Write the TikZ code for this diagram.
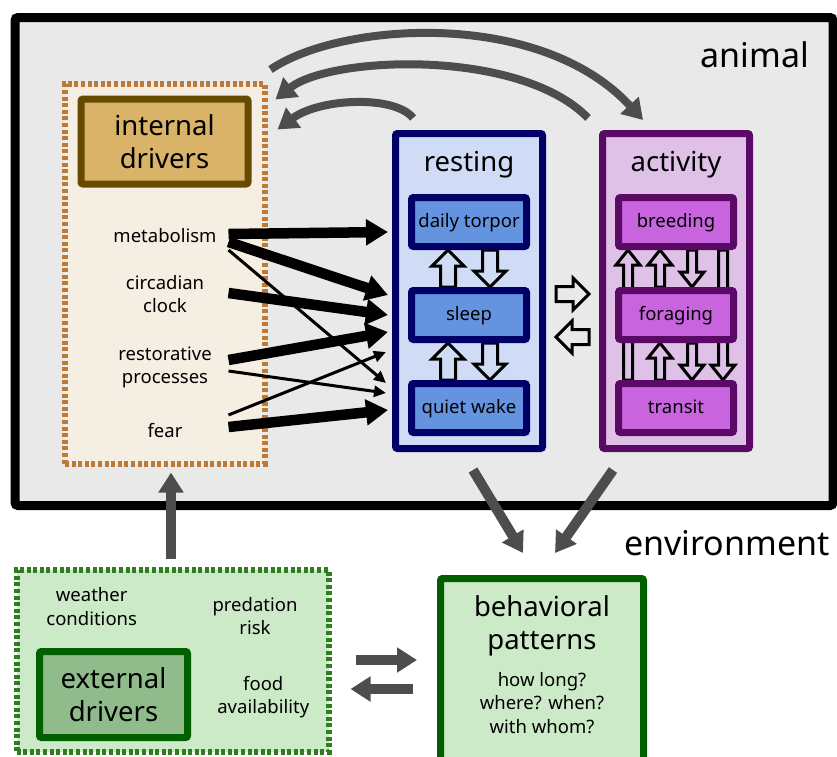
\documentclass[tikz,border=0pt]{standalone}
\usepackage{fontspec}
\setmainfont{Noto Sans}
\usetikzlibrary{arrows.meta,calc,positioning}

\definecolor{bgGray}{HTML}{E9E9E9}
\definecolor{arrGray}{HTML}{4D4D4D}
\definecolor{intFill}{HTML}{F5EEE2}
\definecolor{intDot}{HTML}{BC7A36}
\definecolor{intBox}{HTML}{D9B468}
\definecolor{intLine}{HTML}{654A00}
\definecolor{restFill}{HTML}{D0DCF5}
\definecolor{restLine}{HTML}{000066}
\definecolor{restBox}{HTML}{6494E0}
\definecolor{actFill}{HTML}{DFC0E6}
\definecolor{actLine}{HTML}{5A0A66}
\definecolor{actBox}{HTML}{C864DE}
\definecolor{extFill}{HTML}{CDEAC8}
\definecolor{extDot}{HTML}{2E7D1E}
\definecolor{extBox}{HTML}{8FBC8A}
\definecolor{extLine}{HTML}{006000}

\pgfdeclarelayer{back}
\pgfdeclarelayer{mid}
\pgfsetlayers{back,mid,main}

% hollow block arrows (vertical / horizontal)
\newcommand{\vhollow}[5]{%
  \draw[hollow] let \p1=#1, \p2=#2, \n1={sign(\y2-\y1)} in
    ({\x1-#3},\y1) -- ({\x1-#3},{\y2-(\n1)*#5}) -- ({\x1-#4},{\y2-(\n1)*#5}) -- (\x1,\y2)
    -- ({\x1+#4},{\y2-(\n1)*#5}) -- ({\x1+#3},{\y2-(\n1)*#5}) -- ({\x1+#3},\y1) -- cycle;}
\newcommand{\hhollow}[5]{%
  \draw[hollow] let \p1=#1, \p2=#2, \n1={sign(\x2-\x1)} in
    (\x1,{\y1-#3}) -- ({\x2-(\n1)*#5},{\y1-#3}) -- ({\x2-(\n1)*#5},{\y1-#4}) -- (\x2,\y1)
    -- ({\x2-(\n1)*#5},{\y1+#4}) -- ({\x2-(\n1)*#5},{\y1+#3}) -- (\x1,{\y1+#3}) -- cycle;}

\begin{document}
\begin{tikzpicture}[x=1pt, y=-1pt,
  smalltxt/.style={font=\fontsize{18.5}{23.5}\selectfont, align=center, inner sep=0pt},
  bigtxt/.style={font=\fontsize{27.5}{33}\selectfont, align=center, inner sep=0pt},
  hugetxt/.style={font=\fontsize{34}{40}\selectfont, inner sep=0pt},
  dotbox/.style={line width=6pt, dash pattern=on 4pt off 2.6pt, inner sep=0pt},
  framebox/.style={draw, line width=7pt, rounded corners=2pt, inner sep=0pt},
  itembox/.style={framebox, minimum width=115pt, minimum height=49pt,
    font=\fontsize{18.5}{22}\selectfont, text height=14pt, text depth=3.5pt},
  restitem/.style={itembox, draw=restLine, fill=restBox},
  actitem/.style={itembox, draw=actLine, fill=actBox},
  bigarr/.style={line width=10.5pt, -{Triangle[length=22pt,width=25pt]}},
  thinarr/.style={line width=3pt, -{Triangle[length=12pt,width=11pt]}},
  grayarr/.style={draw=arrGray, line width=10pt, -{Triangle[length=20pt,width=24pt]}},
  curvarr/.style={draw=arrGray, line width=8pt, -{Triangle[length=20pt,width=24pt]}},
  hollow/.style={draw=black, line width=3pt, line join=miter}
]
\useasboundingbox (0,0) rectangle (837,756);

% boxes behind everything
\begin{pgfonlayer}{back}
  \draw[line width=9pt, fill=bgGray, rounded corners=3pt] (15,17.5) rectangle (833,505.5);
  \node[dotbox, draw=intDot, fill=intFill, minimum width=199.5pt, minimum height=380pt] (drv) at (164.75,273.5) {};
  \node[dotbox, draw=extDot, fill=extFill, minimum width=312pt, minimum height=182pt] (ext) at (172.5,661) {};
  \node[framebox, draw=restLine, fill=restFill, minimum width=147pt, minimum height=315pt] (rest) at (469,291) {};
  \node[framebox, draw=actLine, fill=actFill, minimum width=147pt, minimum height=315pt] (act) at (676,291) {};
\end{pgfonlayer}

\node[hugetxt, anchor=base] (anim) at (755,67) {animal};
\node[hugetxt, anchor=base] (env) at (727,555) {environment};

% internal drivers
\node[framebox, draw=intLine, fill=intBox, minimum width=167pt, minimum height=85pt, bigtxt] (intd) at (164.5,141.5) {internal\\drivers};
\node[smalltxt, anchor=base] (met) at (165,242) {metabolism};
\node[smalltxt] (clk) at (165,294) {circadian\\clock};
\node[smalltxt] (rpr) at (165,367.5) {restorative\\processes};
\node[smalltxt, anchor=base] (fear) at (165,437) {fear};

% resting states
\node[bigtxt, anchor=base] (restlbl) at (469,171) {resting};
\node[restitem] (dt) at (469,222) {daily torpor};
\node[restitem] (sl) at (469,315) {sleep};
\node[restitem] (qw) at (469,408) {quiet wake};

% activity states
\node[bigtxt, anchor=base] (actlbl) at (676,171) {activity};
\node[actitem] (br) at (676,222) {breeding};
\node[actitem] (fo) at (676,315) {foraging};
\node[actitem] (tr) at (676,408) {transit};

% external drivers
\node[framebox, draw=extLine, fill=extBox, minimum width=148pt, minimum height=86pt, bigtxt] (extd) at (113.5,694.5) {external\\drivers};
\node[smalltxt] (wth) at (91.7,606.4) {weather\\conditions};
\node[smalltxt] (pred) at (255,615.8) {predation\\risk};
\node[smalltxt] (food) at (263.3,697) {food\\availability};

% behavioral patterns
\node[framebox, draw=extLine, fill=extFill, minimum width=203pt, minimum height=187pt] (behav) at (542,672) {};
\node[bigtxt] (bhtitle) at (542,625.8) {behavioral\\patterns};
\node[smalltxt] (bhq) at (542,703) {how long?\\where? when?\\with whom?};

% transitions between states
\begin{pgfonlayer}{mid}
  \vhollow{($(sl.north)+(-21,0)$)}{($(dt.south)+(-21,0)$)}{7.5pt}{16pt}{16pt}
  \vhollow{($(dt.south)+(21,0)$)}{($(sl.north)+(21,0)$)}{7.5pt}{16pt}{16pt}
  \vhollow{($(qw.north)+(-21,0)$)}{($(sl.south)+(-21,0)$)}{7.5pt}{16pt}{16pt}
  \vhollow{($(sl.south)+(21,0)$)}{($(qw.north)+(21,0)$)}{7.5pt}{16pt}{16pt}
  \vhollow{($(tr.north)+(-48,0)$)}{($(br.south)+(-48,0)$)}{4.5pt}{12pt}{15pt}
  \vhollow{($(fo.north)+(-16,0)$)}{($(br.south)+(-16,0)$)}{4.5pt}{12pt}{15pt}
  \vhollow{($(br.south)+(16,0)$)}{($(fo.north)+(16,0)$)}{4.5pt}{12pt}{15pt}
  \vhollow{($(br.south)+(47,0)$)}{($(tr.north)+(47,0)$)}{4.5pt}{12pt}{15pt}
  \vhollow{($(tr.north)+(-16,0)$)}{($(fo.south)+(-16,0)$)}{4.5pt}{12pt}{15pt}
  \vhollow{($(fo.south)+(16,0)$)}{($(tr.north)+(16,0)$)}{4.5pt}{12pt}{15pt}
  \hhollow{($(rest.east)+(10,3)$)}{($(act.west)+(-10,3)$)}{7.5pt}{16pt}{16pt}
  \hhollow{($(act.west)+(-10,46)$)}{($(rest.east)+(10,46)$)}{7.5pt}{16pt}{16pt}
\end{pgfonlayer}

% drivers -> resting
\coordinate (src) at ($(drv.east)+(-39,0)$);
\draw[bigarr] ($(src |- met.base)+(0,-8)$) -- ($(rest.west |- dt)+(-4,10)$);
\draw[bigarr] ($(src |- met.base)+(0,0)$) -- ($(rest.west |- sl)+(-4,-20)$);
\draw[thinarr] ($(src |- met.base)+(0,8)$) -- ($(rest.west |- qw)+(-6,-25)$);
\draw[bigarr] ($(src |- clk)+(0,-1)$) -- ($(rest.west |- sl)+(-4,0)$);
\draw[bigarr] ($(src |- rpr)+(0,-7.5)$) -- ($(rest.west |- sl)+(-4,17)$);
\draw[thinarr] ($(src |- rpr)+(0,3.5)$) -- ($(rest.west |- qw)+(-6,-15)$);
\draw[thinarr] ($(src |- fear.base)+(0,-22)$) -- ($(rest.west |- sl)+(-6,37)$);
\draw[bigarr] ($(src |- fear.base)+(0,-10)$) -- ($(rest.west |- qw)+(-4,2)$);

% feedback loops
\draw[curvarr] ($(drv.north east)+(3,-11)$) .. controls (340,22) and (540,8) .. ($(act.north)+(-33,-10)$);
\draw[curvarr] ($(act.north)+(-88,-12)$) .. controls (520,48) and (330,56) .. ($(drv.north east)+(8,19)$);
\draw[curvarr] ($(rest.north)+(-56,-12)$) .. controls (395,95) and (320,98) .. ($(drv.north east)+(10,49)$);

% environment links
\draw[grayarr] ($(rest.south)+(4,18)$) -- ($(behav.north)+(-19,-22)$);
\draw[grayarr] ($(act.south)+(-63,18)$) -- ($(behav.north)+(13,-22)$);
\draw[grayarr] ($(ext.north)+(-1.5,-8)$) -- ($(ext.north |- drv.south)+(-1.5,6)$);
\draw[grayarr] ($(ext.east)+(24,-1)$) -- ($(behav.west)+(-20,-12)$);
\draw[grayarr] ($(behav.west)+(-24,17)$) -- ($(ext.east)+(19,28)$);

\end{tikzpicture}
\end{document}
